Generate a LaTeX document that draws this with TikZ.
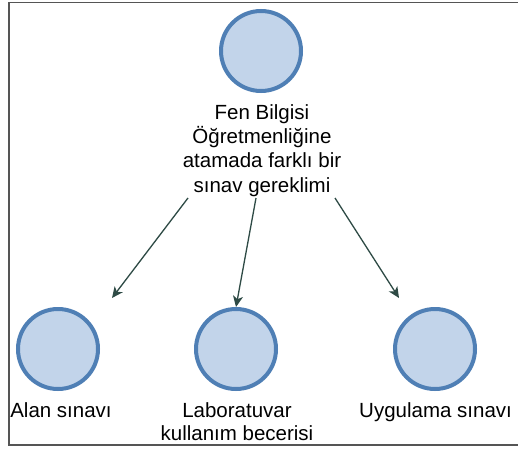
\documentclass[tikz,border=0pt]{standalone}
\usepackage{fontspec}
\setmainfont{Liberation Sans}
\usetikzlibrary{arrows.meta}
\definecolor{cfill}{HTML}{C2D4EA}
\definecolor{cline}{HTML}{4F7FB5}
\definecolor{arr}{HTML}{2E4A45}
\definecolor{frame}{HTML}{555555}
\begin{document}
\begin{tikzpicture}[x=1pt,y=-1pt,
  circ/.style={circle,draw=cline,fill=cfill,line width=4pt,minimum size=80pt,inner sep=0pt},
  lbl/.style={align=center,inner sep=0pt,font=\fontsize{20.5}{24.3}\selectfont},
  conn/.style={draw=arr,line width=1.3pt,-{Stealth[length=11pt,width=10pt,inset=3pt]}}]
\useasboundingbox (0,0) rectangle (518,449);
\fill[white] (0,0) rectangle (518,449);
\begin{scope}
\clip (9,2.5) rectangle (518,445);
\node[circ] (top) at (261,51) {};
\node[lbl,anchor=base] (q) at (262,192) {Fen Bilgisi\\Öğretmenliğine\\atamada farklı bir\\sınav gereklimi};
\node[circ] (a) at (58,349) {};
\node[circ] (b) at (236,349) {};
\node[circ] (c) at (435,349) {};
\node[lbl,anchor=base] (la) at (61,417) {Alan sınavı};
\node[lbl,anchor=base,font=\fontsize{20.5}{23}\selectfont] (lb) at (237,440) {Laboratuvar\\kullanım becerisi};
\node[lbl,anchor=base west] (lc) at (359,417) {Uygulama sınavı};
\coordinate (s1) at (188,198);
\coordinate (s2) at (256,198);
\coordinate (s3) at (335,198);
\coordinate (e1) at (112,298);
\coordinate (e3) at (399,298);
\draw[conn] (s1) -- (e1);
\draw[conn] (s2) -- (b.north);
\draw[conn] (s3) -- (e3);
\end{scope}
\draw[frame,line width=1.8pt] (518,2.5) -- (9,2.5) -- (9,445) -- (518,445);
\end{tikzpicture}
\end{document}
